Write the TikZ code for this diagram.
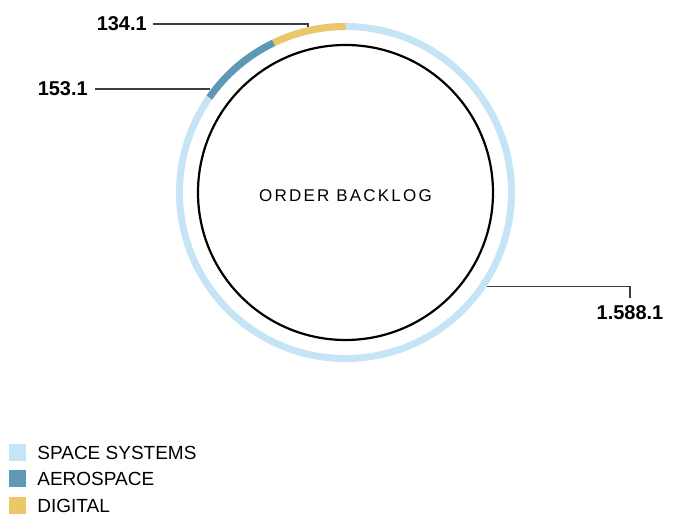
\documentclass[tikz,border=0pt]{standalone}
\usepackage{fontspec}
\setmainfont{Liberation Sans}
\usetikzlibrary{positioning}
\definecolor{spacesys}{RGB}{197,228,246}
\definecolor{aerosp}{RGB}{94,152,178}
\definecolor{digi}{RGB}{234,200,106}
\definecolor{leader}{RGB}{60,60,60}

\begin{document}
\begin{tikzpicture}[x=1pt,y=1pt,
    seg/.style={line width=7pt},
    lead/.style={draw=leader,line width=1.1pt},
    val/.style={font=\bfseries\fontsize{20}{24}\selectfont,inner sep=0pt},
    key/.style={minimum size=17pt,inner sep=0pt},
    keytext/.style={font=\fontsize{19}{23}\selectfont,inner sep=0pt}]
  \useasboundingbox (0,0) rectangle (683,516);
  \coordinate (c) at (345.5,323.5);

  % ring and segments
  \draw[seg,spacesys] (c) circle (166);
  \draw[seg,digi] ([shift={(90:166)}]c) arc[start angle=90,end angle=115.7,radius=166];
  \draw[seg,aerosp] ([shift={(115.7:166)}]c) arc[start angle=115.7,end angle=145.1,radius=166];
  \draw[line width=2.2pt] (c) circle (147.5);
  \node[font=\fontsize{17}{20}\selectfont\addfontfeature{LetterSpace=13}] (title) at ([yshift=-3pt]c) {ORDER BACKLOG};

  % values
  \node[val,anchor=east] (dig) at (147,492) {134.1};
  \coordinate (pdig) at ([shift={(102.8:169.5)}]c);
  \draw[lead] ([xshift=6pt]dig.east) -- (dig.east -| pdig) -- (pdig);

  \node[val,anchor=east] (aer) at (88,427) {153.1};
  \coordinate (paer) at ([shift={(142.6:170.5)}]c);
  \draw[lead] ([xshift=7pt]aer.east) -- (aer.east -| paer);

  \node[val,anchor=north] (spc) at (630,211) {1.588.1};
  \coordinate (pspc) at ([shift={(-33.7:170.1)}]c);
  \draw[lead] (pspc) -- (pspc -| spc.north) -- ([yshift=7pt]spc.north);

  % legend
  \foreach \i/\col/\txt in {0/spacesys/SPACE SYSTEMS,1/aerosp/AEROSPACE,2/digi/DIGITAL} {
    \node[key,fill=\col] (k\i) at (17.5,63.5-26.5*\i) {};
    \node[keytext,right=11pt of k\i] (t\i) {\txt};
  }
\end{tikzpicture}
\end{document}
